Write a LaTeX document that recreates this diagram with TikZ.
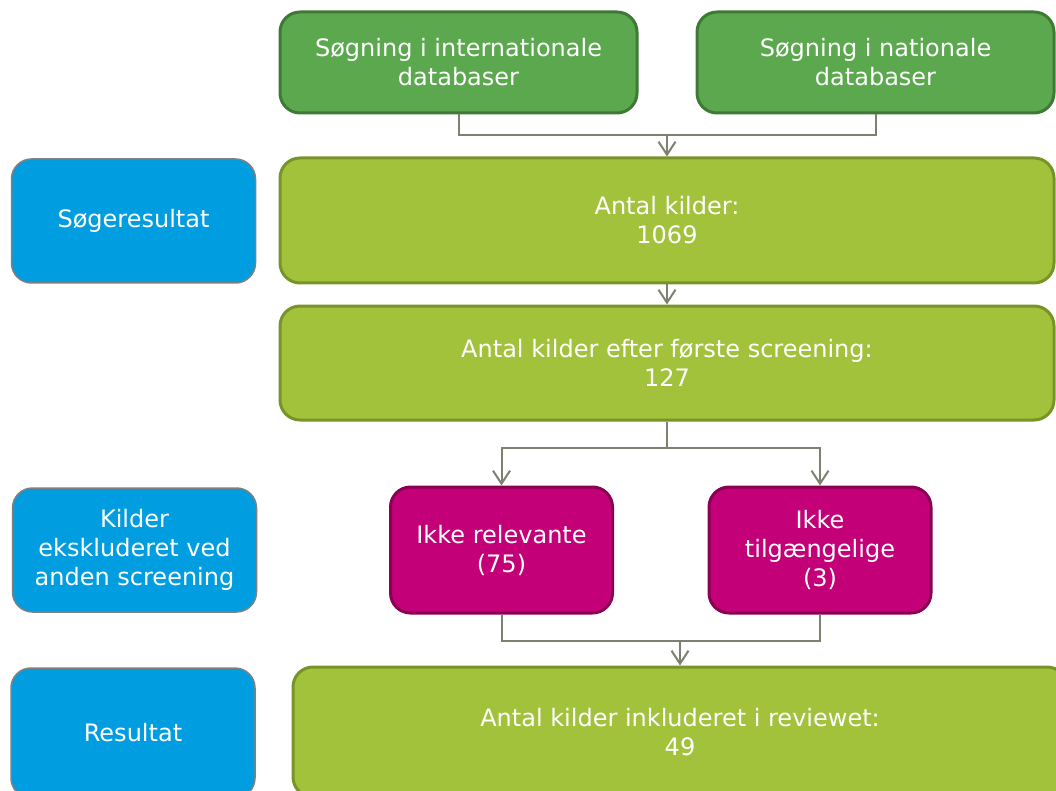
\documentclass[tikz,border=0pt]{standalone}
\usepackage{fontspec}
\setmainfont{DejaVu Sans}
\usetikzlibrary{arrows.meta}

\definecolor{darkgreen}{RGB}{91,168,79}
\definecolor{darkgreenline}{RGB}{62,122,54}
\definecolor{lightgreen}{RGB}{162,194,60}
\definecolor{lightgreenline}{RGB}{120,148,40}
\definecolor{magentabox}{RGB}{196,0,120}
\definecolor{magentaline}{RGB}{138,0,82}
\definecolor{bluebox}{RGB}{0,158,224}
\definecolor{linkgray}{RGB}{128,128,112}

\begin{document}
\begin{tikzpicture}[x=1pt,y=-1pt,
		every node/.style={font=\fontsize{24}{29}\selectfont,text=white,align=center,inner sep=0pt},
		box/.style={rectangle,rounded corners=20pt},
		search box/.style={box,fill=darkgreen,draw=darkgreenline,line width=3pt,minimum width=357pt,minimum height=101pt},
		count box/.style={box,fill=lightgreen,draw=lightgreenline,line width=3pt,minimum width=774pt},
		excl box/.style={box,fill=magentabox,draw=magentaline,line width=3pt,minimum width=222pt,minimum height=126pt},
		label box/.style={box,fill=bluebox,draw=gray,line width=1.5pt,minimum width=244pt},
		link/.style={draw=linkgray,line width=2pt},
		arrow/.style={link,-{Straight Barb[length=13pt,width=17pt,line width=2pt]}}]
		
		\clip (0,0) rectangle (1056,791);
		
		% search
		\node[search box] (intl) at (458.5,62.5) {Søgning i internationale\\databaser};
		\node[search box] (natl) at (875.5,62.5) {Søgning i nationale\\databaser};
		
		% counts
		\node[count box,minimum height=125pt] (total) at (667,220.5) {Antal kilder:\\1069};
		\node[count box,minimum height=114pt] (first) at (667,363) {Antal kilder efter første screening:\\127};
		\node[count box,minimum height=130pt] (final) at (680,732) {Antal kilder inkluderet i reviewet:\\49};
		
		% excluded
		\node[excl box] (notrel) at (501.5,550) {Ikke relevante\\(75)};
		\node[excl box] (notavail) at (820,550) {Ikke\\tilgængelige\\(3)};
		
		% labels
		\node[label box,minimum height=124pt] (lsearch) at (133.5,221) {Søgeresultat};
		\node[label box,minimum height=124pt] (lexcl) at (134.5,550) {Kilder\\ekskluderet ved\\anden screening};
		\node[label box,minimum height=130pt] (lresult) at (133,733) {Resultat};
		
		\coordinate (join1) at (667,135);
		\coordinate (split) at (667,448);
		\coordinate (join2) at (680,641);
		
		\path[link] (intl.south) |- (join1) -| (natl.south);
		\path[arrow] (join1) -- (total.north);
		\path[arrow] (total.south) -- (first.north);
		\path[link] (first.south) -- (split);
		\path[arrow] (split) -| (notrel.north);
		\path[arrow] (split) -| (notavail.north);
		\path[link] (notrel.south) |- (join2) -| (notavail.south);
		\path[arrow] (join2) -- (final.north);
\end{tikzpicture}
\end{document}
